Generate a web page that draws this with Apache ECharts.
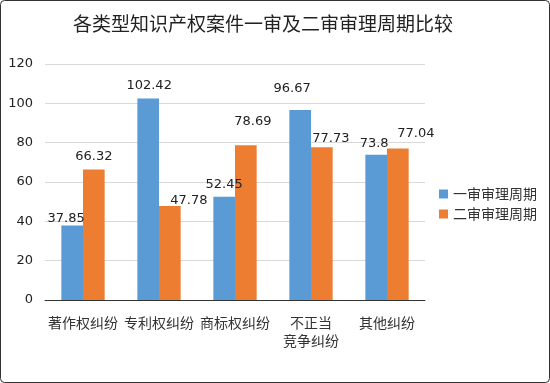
<!DOCTYPE html>
<html><head><meta charset="utf-8">
<script src="https://cdn.jsdelivr.net/npm/echarts@6/dist/echarts.min.js"></script>
<style>html,body{margin:0;padding:0;background:#fff}#c{width:550px;height:383px}</style>
</head><body><div id="c"></div>
<script>
const categories = ['著作权纠纷', '专利权纠纷', '商标权纠纷', '不正当\n竞争纠纷', '其他纠纷'];
const seriesNames = ['一审审理周期', '二审审理周期'];
const firstInstance = [37.85, 102.42, 52.45, 96.67, 73.8];
const secondInstance = [66.32, 47.78, 78.69, 77.73, 77.04];
const yTicks = {min: 0, max: 120, interval: 20};
// label nudges (style only, like the hand-placed labels in the reference)
const firstLabelOffsets = [[-6, 6], [1, 0], [0, 0], [-8, -9], [-2, 1]];
const secondLabelOffsets = [[0, 0], [19, 7], [7, -11], [9, 4], [18, -2]];

const chart = echarts.init(document.getElementById('c'), null, {renderer: 'canvas'});
const numFont = 'DejaVu Sans';
const cjk = '"Noto Sans CJK SC"';
const withOffsets = (vals, offs) => vals.map((v, i) => ({value: v, label: {offset: offs[i]}}));
const labelStyle = {show: true, position: 'top', fontFamily: numFont, fontSize: 13, color: '#222', distance: 6};
chart.setOption({
  animation: false,
  backgroundColor: '#fff',
  graphic: [{type: 'rect', shape: {x: 0.5, y: 0.5, width: 549, height: 382, r: 4}, style: {fill: 'none', stroke: '#333', lineWidth: 1}}],
  title: {text: '各类型知识产权案件一审及二审审理周期比较', left: 68, top: 9,
    textStyle: {fontFamily: cjk, fontSize: 19, fontWeight: 'normal', color: '#222'}},
  grid: {left: 45, right: 125, top: 64, bottom: 83},
  legend: {orient: 'vertical', left: 434, top: 182, itemWidth: 9, itemHeight: 9, itemGap: 6, itemSpacing: 4,
    icon: 'rect', textStyle: {fontFamily: cjk, fontSize: 14, color: '#333'}, data: seriesNames},
  xAxis: {type: 'category', data: categories,
    axisLine: {lineStyle: {color: '#333', width: 1}}, axisTick: {show: false},
    axisLabel: {interval: 0, fontFamily: cjk, fontSize: 14, color: '#333', margin: 14, lineHeight: 18}},
  yAxis: {type: 'value', min: yTicks.min, max: yTicks.max, interval: yTicks.interval,
    axisLine: {show: false}, axisTick: {show: false},
    splitLine: {lineStyle: {color: '#d9d9d9'}},
    axisLabel: {fontFamily: numFont, fontSize: 13, color: '#222', margin: 12}},
  series: [
    {name: seriesNames[0], type: 'bar', data: withOffsets(firstInstance, firstLabelOffsets), barGap: '0%', barCategoryGap: '43%',
     itemStyle: {color: '#5b9bd5'}, label: labelStyle},
    {name: seriesNames[1], type: 'bar', data: withOffsets(secondInstance, secondLabelOffsets),
     itemStyle: {color: '#ed7d31'}, label: labelStyle}
  ]
});
</script></body></html>
